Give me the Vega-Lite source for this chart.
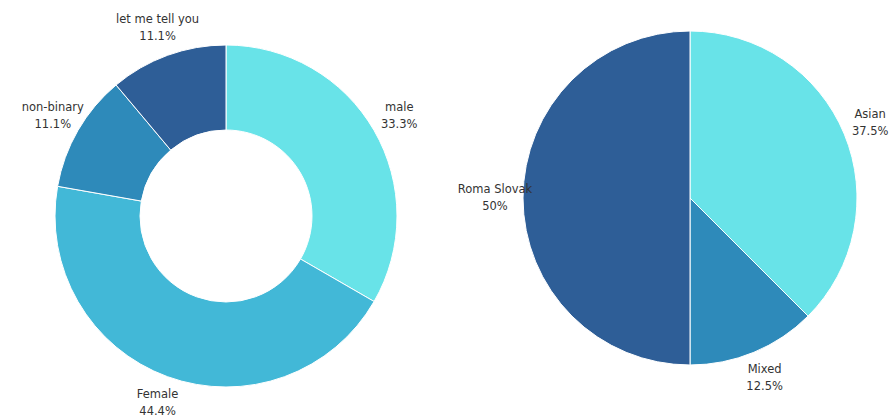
{
  "$schema": "https://vega.github.io/schema/vega-lite/v6.json",
  "bounds": "flush",
  "padding": {"left": 21, "top": 13, "right": 0, "bottom": 0},
  "spacing": 64,
  "background": "white",
  "config": {"view": {"stroke": null}, "text": {"font": "DejaVu Sans", "fontSize": 11.5, "fill": "#333333"}},
  "hconcat": [
    {
      "width": 400,
      "height": 400,
      "data": {"values": [
        {"category": "male", "count": 3, "pct": "33.3%", "order": 1},
        {"category": "Female", "count": 4, "pct": "44.4%", "order": 2},
        {"category": "non-binary", "count": 1, "pct": "11.1%", "order": 3},
        {"category": "let me tell you", "count": 1, "pct": "11.1%", "order": 4}
      ]},
      "encoding": {
        "theta": {"field": "count", "type": "quantitative", "stack": true},
        "order": {"field": "order", "type": "quantitative"}
      },
      "layer": [
        {
          "mark": {"type": "arc", "outerRadius": 171, "innerRadius": 86, "stroke": "white", "strokeWidth": 1},
          "encoding": {
            "color": {"field": "category", "type": "nominal", "legend": null,
              "scale": {"domain": ["male", "Female", "non-binary", "let me tell you"], "range": ["#68E3E8", "#42B8D7", "#2E8ABA", "#2E5E97"]}}
          }
        },
        {
          "mark": {"type": "text", "radius": 200, "dy": -8.5},
          "encoding": {"text": {"field": "category", "type": "nominal"}}
        },
        {
          "mark": {"type": "text", "radius": 200, "dy": 8.5},
          "encoding": {"text": {"field": "pct", "type": "nominal"}}
        }
      ]
    },
    {
      "width": 400,
      "height": 364,
      "data": {"values": [
        {"category": "Asian", "count": 3, "pct": "37.5%", "order": 1},
        {"category": "Mixed", "count": 1, "pct": "12.5%", "order": 2},
        {"category": "Roma Slovak", "count": 4, "pct": "50%", "order": 3}
      ]},
      "encoding": {
        "theta": {"field": "count", "type": "quantitative", "stack": true},
        "order": {"field": "order", "type": "quantitative"}
      },
      "layer": [
        {
          "mark": {"type": "arc", "outerRadius": 167, "stroke": "white", "strokeWidth": 1},
          "encoding": {
            "color": {"field": "category", "type": "nominal", "legend": null,
              "scale": {"domain": ["Asian", "Mixed", "Roma Slovak"], "range": ["#68E3E8", "#2E8ABA", "#2E5E97"]}}
          }
        },
        {
          "mark": {"type": "text", "radius": 195, "dy": -8.5},
          "encoding": {"text": {"field": "category", "type": "nominal"}}
        },
        {
          "mark": {"type": "text", "radius": 195, "dy": 8.5},
          "encoding": {"text": {"field": "pct", "type": "nominal"}}
        }
      ]
    }
  ],
  "resolve": {"scale": {"color": "independent", "theta": "independent"}}
}
